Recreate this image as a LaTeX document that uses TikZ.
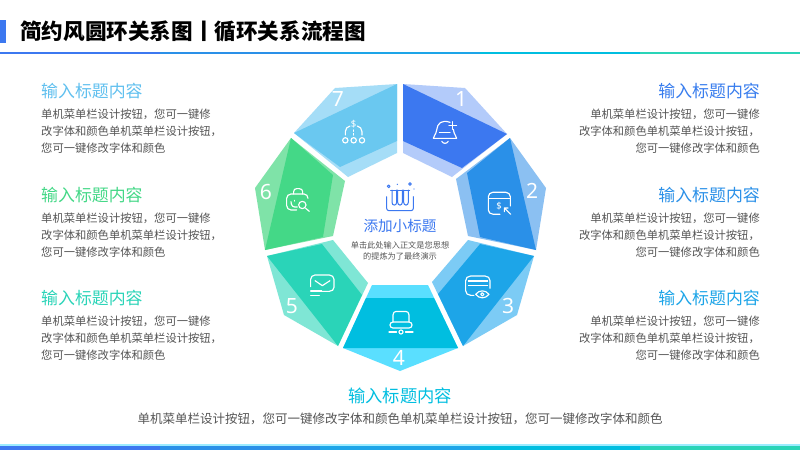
\documentclass[tikz,border=0pt]{standalone}
\usepackage{fontspec}
\setmainfont{Noto Sans CJK SC}
\newfontfamily\numfont{Noto Sans}
\definecolor{cA}{HTML}{3C78F0}\definecolor{lA}{HTML}{B3CBFA}
\definecolor{cB}{HTML}{2A90E8}\definecolor{lB}{HTML}{8BC0F2}
\definecolor{cC}{HTML}{1DA5E8}\definecolor{lC}{HTML}{7CCBF5}
\definecolor{cD}{HTML}{00BEE0}\definecolor{lD}{HTML}{5ADFFF}
\definecolor{cE}{HTML}{2AD4B8}\definecolor{lE}{HTML}{7FE6D5}
\definecolor{cF}{HTML}{44D887}\definecolor{lF}{HTML}{7FE3A8}
\definecolor{cG}{HTML}{6AC8F0}\definecolor{lG}{HTML}{A5DDF7}
\definecolor{bodytxt}{HTML}{555555}
\tikzset{
  numlab/.style={font=\numfont\fontsize{21}{21}\selectfont,text=white,inner sep=0pt},
  ttl/.style={font=\fontsize{16.9}{17}\selectfont,inner sep=0pt},
  bodyL/.style={font=\fontsize{11.3}{17}\selectfont,text=bodytxt,inner sep=0pt,align=left,anchor=north west},
  bodyR/.style={font=\fontsize{11.3}{17}\selectfont,text=bodytxt,inner sep=0pt,align=right,anchor=north east},
  ico/.style={draw=white,line width=1.15pt,line cap=round,line join=round},
  cico/.style={draw=cA,line width=1pt,line cap=round,line join=round},
}
\begin{document}
\begin{tikzpicture}[x=1pt,y=-1pt]
\useasboundingbox (0,0) rectangle (800,450);
\fill[white] (0,0) rectangle (800,450);
% header
\fill[cA] (0,20) rectangle (6,43);
\node[inner sep=0pt,anchor=west,font=\fontsize{21.6}{22}\bfseries\selectfont] (title) at (20,31.5) {简约风圆环关系图丨循环关系流程图};
\fill[cA] (0,52.3) rectangle (160,54.2);
\fill[cB] (160,52.3) rectangle (320,54.2);
\fill[cC] (320,52.3) rectangle (480,54.2);
\fill[cD] (480,52.3) rectangle (640,54.2);
\fill[cE] (640,52.3) rectangle (800,54.2);
% bottom bar
\fill[lD!60] (0,444.3) rectangle (800,446);
\fill[cA] (0,445.7) rectangle (160,450);
\fill[cB] (160,445.7) rectangle (320,450);
\fill[cC] (320,445.7) rectangle (480,450);
\fill[cD] (480,445.7) rectangle (640,450);
\fill[cE] (640,445.7) rectangle (800,450);
% segments
\fill[lA] (403,84)--(465,88)--(507,134)--(452,177)--(403,153)--cycle;
\fill[cA] (403,84)--(507,134)--(462,168)--(403,141)--cycle;
\fill[lB] (510,138)--(546,188)--(536,250)--(468,236)--(456,179)--cycle;
\fill[cB] (510,138)--(536,250)--(480,237)--(467,173)--cycle;
\fill[lC] (534,256)--(517,315)--(463,346)--(432,282)--(468,240)--cycle;
\fill[cC] (534,256)--(463,346)--(438,294)--(480,244)--cycle;
\fill[lD] (372,285)--(428,285)--(458,348)--(400,371)--(343,348)--cycle;
\fill[cD] (366,298)--(434,298)--(458,348)--(343,348)--cycle;
\fill[lE] (267,256)--(333,240)--(368,283)--(338,346)--(284,315)--cycle;
\fill[cE] (267,256)--(322,244)--(362,295)--(338,346)--cycle;
\fill[lF] (291,138)--(345,181)--(333,236)--(265,250)--(255,188)--cycle;
\fill[cF] (291,138)--(333,175)--(323,237)--(265,250)--cycle;
\fill[lG] (397,84)--(335,88)--(294,133)--(348,177)--(397,153)--cycle;
\fill[cG] (397,84)--(294,133)--(340,167)--(397,141)--cycle;
% numbers
\node[numlab] (n1) at (461,99) {1};
\node[numlab] (n2) at (532,191) {2};
\node[numlab] (n3) at (508,306) {3};
\node[numlab] (n4) at (399,358) {4};
\node[numlab] (n5) at (292,306) {5};
\node[numlab] (n6) at (266,192) {6};
\node[numlab] (n7) at (338,99) {7};
% icon 1 bell
\begin{scope}[shift={(400,70)},x=0.3333pt,y=-0.3333pt]
\draw[ico] (150,157) .. controls (125,148) and (112,160) .. (110,180) .. controls (108,195) and (100,198) .. (100,205) -- (170,205) .. controls (170,198) and (162,195) .. (160,178);
\draw[ico] (118,187)--(150,187);
\draw[ico] (125,214) .. controls (130,222) and (140,222) .. (145,214);
\draw[ico] (158,155)--(158,178) (147,166)--(170,166);
% icon 2 card
\draw[ico] (300,433)--(280,433) .. controls (271,433) and (265,427) .. (265,420) -- (265,380) .. controls (265,373) and (271,367) .. (278,367) -- (318,367) .. controls (325,367) and (331,373) .. (331,380) -- (331,408);
\draw[ico] (268,385)--(329,385);
\draw[ico] (313,425)--(313,414)--(324,414) (315,416)--(332,433);
\node[inner sep=0pt,text=white,font=\numfont\bfseries\fontsize{9.5}{10}\selectfont] (dollar2) at (297,408) {\$};
\end{scope}
% icon 3 card eye
\begin{scope}[shift={(400,220)},x=0.3333pt,y=-0.3333pt]
\draw[ico] (222,226)--(212,226) .. controls (203,226) and (197,220) .. (197,212) -- (197,182) .. controls (197,174) and (203,168) .. (212,168) -- (255,168) .. controls (264,168) and (270,174) .. (270,182) -- (270,205);
\draw[ico] (205,183)--(263,183) (205,197)--(263,197);
\draw[ico] (227,223) .. controls (238,209) and (256,209) .. (267,223) .. controls (256,237) and (238,237) .. (227,223) -- cycle;
\draw[ico] (247,223) circle (5);
\end{scope}
% icon 4 laptop
\begin{scope}[shift={(401,322)}]
\draw[ico] (-8,0)--(-8,-7) .. controls (-8,-9.5) and (-6.5,-10.5) .. (-5,-10.5) -- (5,-10.5) .. controls (6.5,-10.5) and (8,-9.5) .. (8,-7) -- (8,0);
\draw[ico] (-8,0)--(8,0) .. controls (12,0) and (12,6) .. (8,6) -- (-8,6) .. controls (-12,6) and (-12,0) .. (-8,0) -- cycle;
\draw[ico] (-12,10)--(-4.5,10) (4.5,10)--(12,10);
\draw[ico] (0,10) circle (2);
\end{scope}
% icon 5 mail
\begin{scope}[shift={(240,220)},x=0.3333pt,y=-0.3333pt]
\draw[ico] (212,200)--(212,178) .. controls (212,171) and (218,165) .. (225,165) -- (268,165) .. controls (276,165) and (282,171) .. (282,178) -- (282,202) .. controls (282,209) and (276,214) .. (268,214) -- (247,214);
\draw[ico] (225,182)--(247,197)--(270,182);
\draw[ico] (212,213)--(245,213) (212,226)--(238,226);
\end{scope}
\begin{scope}[shift={(240,70)},x=0.3333pt,y=-0.3333pt]
% icon 6 bag
\draw[ico] (170,420)--(153,420) .. controls (146,420) and (140,414) .. (140,407) -- (140,385) .. controls (140,378) and (146,372) .. (153,372) -- (192,372) .. controls (199,372) and (204,378) .. (204,385);
\draw[ico] (161,372)--(161,365) .. controls (161,359) and (165,356) .. (170,356) -- (178,356) .. controls (184,356) and (188,360) .. (188,365) -- (188,372);
\draw[ico] (153,395) .. controls (153,408) and (160,413) .. (172,411);
\draw[ico] (163,391)--(163,393);
\draw[ico] (187,405) circle (11);
\draw[ico] (197,415)--(208,424);
% icon 7 tree
\node[inner sep=0pt,text=white,font=\numfont\fontsize{9.5}{10}\selectfont] (dollar7) at (341,163) {\$};
\draw[ico] (316,195)--(316,185) .. controls (316,176) and (322,170) .. (330,168);
\draw[ico] (366,195)--(366,185) .. controls (366,176) and (360,170) .. (352,168);
\draw[ico] (341,180)--(341,184) (341,190)--(341,195);
\draw[ico] (316,211) circle (8) (341,211) circle (8) (366,211) circle (8);
\end{scope}
% centre icon
\begin{scope}[shift={(340,170)},x=0.3333pt,y=-0.3333pt]
\draw[cico] (140,80)--(140,115) .. controls (140,119) and (143,122) .. (147,122) -- (213,122) .. controls (217,122) and (220,119) .. (220,115) -- (220,80);
\draw[cico] (156,60)--(156,97) .. controls (156,108) and (170,108) .. (170,97) -- (170,60);
\draw[cico] (173,60)--(173,97) .. controls (173,108) and (187,108) .. (187,97) -- (187,60);
\draw[cico] (191,60)--(191,97) .. controls (191,108) and (205,108) .. (205,97) -- (205,60);
\draw[cico] (152,60)--(209,60);
\draw[cico] (146,49) circle (4) (210,42) circle (4);
\fill[cA] (172,43) circle (2.2) (222,57) circle (2.2);
\end{scope}
\node[inner sep=0pt,text=cA,font=\fontsize{14.6}{15}\selectfont] (ctitle) at (400,226) {添加小标题};
\node[inner sep=0pt,text=bodytxt,align=center,font=\fontsize{8.2}{11.2}\selectfont] (cbody) at (400,250.5) {单击此处输入正文是您思想\\的提炼为了最终演示};
% left texts
\node[ttl,text=cG!85!cB,anchor=west] (t7) at (41,91) {输入标题内容};
\node[bodyL] (b7) at (41,109) {单机菜单栏设计按钮，您可一键修\\改字体和颜色单机菜单栏设计按钮，\\您可一键修改字体和颜色};
\node[ttl,text=cF,anchor=west] (t6) at (41,195) {输入标题内容};
\node[bodyL] (b6) at (41,212.5) {单机菜单栏设计按钮，您可一键修\\改字体和颜色单机菜单栏设计按钮，\\您可一键修改字体和颜色};
\node[ttl,text=cE,anchor=west] (t5) at (41,298) {输入标题内容};
\node[bodyL] (b5) at (41,315.5) {单机菜单栏设计按钮，您可一键修\\改字体和颜色单机菜单栏设计按钮，\\您可一键修改字体和颜色};
% right texts
\node[ttl,text=cA!80!cB,anchor=east] (t1) at (760,91) {输入标题内容};
\node[bodyR] (b1) at (760,109) {单机菜单栏设计按钮，您可一键修\\改字体和颜色单机菜单栏设计按钮，\\您可一键修改字体和颜色};
\node[ttl,text=cB,anchor=east] (t2) at (760,195) {输入标题内容};
\node[bodyR] (b2) at (760,212.5) {单机菜单栏设计按钮，您可一键修\\改字体和颜色单机菜单栏设计按钮，\\您可一键修改字体和颜色};
\node[ttl,text=cC,anchor=east] (t3) at (760,298) {输入标题内容};
\node[bodyR] (b3) at (760,315.5) {单机菜单栏设计按钮，您可一键修\\改字体和颜色单机菜单栏设计按钮，\\您可一键修改字体和颜色};
% bottom text
\node[inner sep=0pt,text=cD,font=\fontsize{17.3}{18}\selectfont] (t4) at (400,395.5) {输入标题内容};
\node[inner sep=0pt,text=bodytxt,font=\fontsize{12.5}{14}\selectfont] (b4) at (400,419) {单机菜单栏设计按钮，您可一键修改字体和颜色单机菜单栏设计按钮，您可一键修改字体和颜色};
\end{tikzpicture}
\end{document}
